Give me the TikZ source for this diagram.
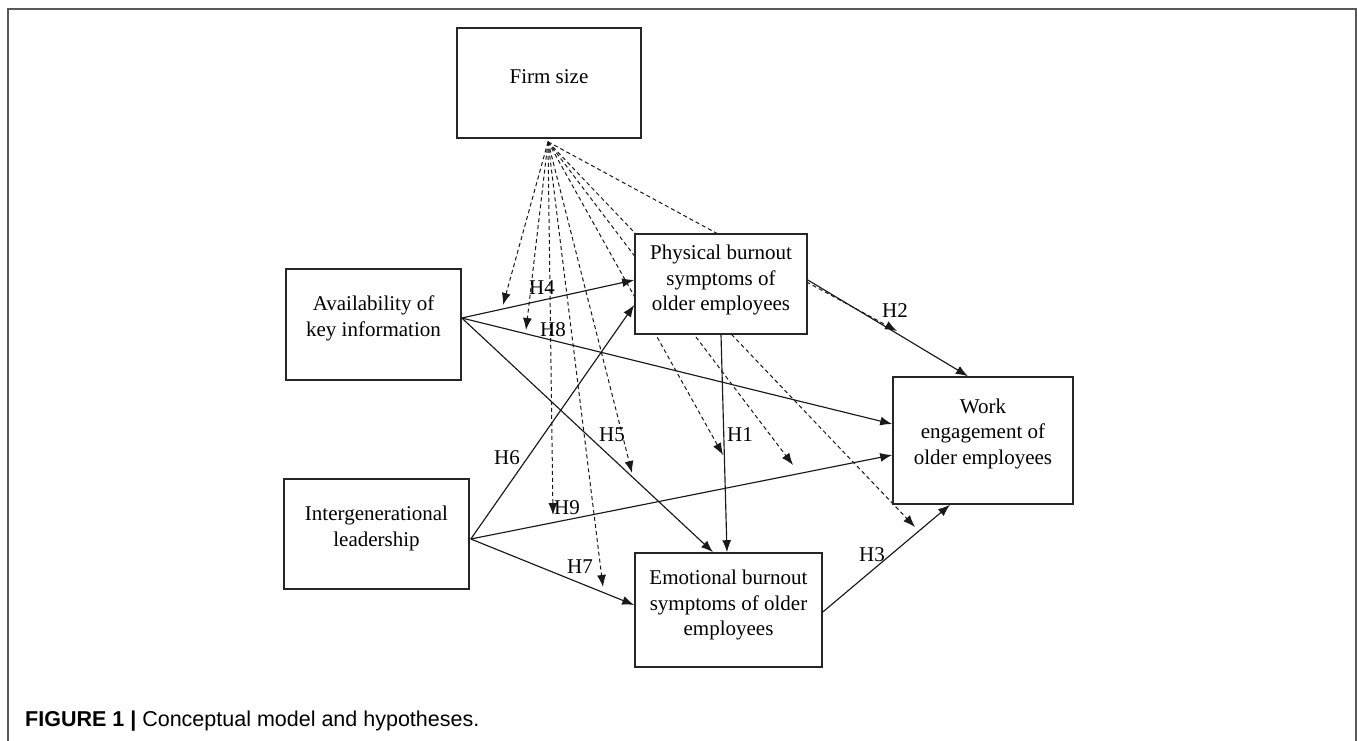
\documentclass[tikz,border=0pt]{standalone}
\usepackage{fontspec}
\setmainfont{Liberation Serif}
\newfontfamily\capfont{Liberation Sans}
\usetikzlibrary{arrows.meta,calc}
\begin{document}
\begin{tikzpicture}[x=1pt,y=-1pt,
  box/.style={draw=black!85, line width=1.6pt, fill=white, inner sep=0pt},
  txt/.style={align=center, inner sep=0pt, font=\fontsize{21}{25.5}\selectfont},
  hyp/.style={inner sep=0pt, font=\fontsize{21}{24}\selectfont},
  link/.style={line width=1.15pt, draw=black!90, -{Latex[length=12pt,width=9pt]}},
  mod/.style={line width=1pt, draw=black!90, dash pattern=on 4pt off 3pt, -{Latex[length=12pt,width=9pt]}}
]
\useasboundingbox (0,0) rectangle (1357,740);
\fill[white] (0,0) rectangle (1357,740);
\draw[black!65, line width=2pt] (8,742) -- (8,9) -- (1356,9) -- (1356,742);

% boxes (empty, for positions)
\node[box, minimum width=184pt, minimum height=110pt] (firm) at (549,83) {};
\node[box, minimum width=175pt, minimum height=111pt] (avail) at (373.5,324.5) {};
\node[box, minimum width=185pt, minimum height=110pt] (inter) at (376.5,534) {};

% dashed moderation lines (drawn before the boxes they pass behind)
\coordinate (src) at ($(firm.south)+(-1,3)$);
\coordinate (ma) at (503,305);
\coordinate (mb) at (526,330);
\coordinate (mc) at (553,515);
\coordinate (md) at (603,587);
\coordinate (me) at (632,473);
\coordinate (mf) at (723,455);
\coordinate (mg) at (793,465);
\coordinate (mh) at (915,527);
\coordinate (mi) at (897,331);
\foreach \t in {ma,mb,mc,md,me,mf,mg,mh,mi} \draw[mod] (src) -- (\t);

\node[box, minimum width=172pt, minimum height=100pt] (phys) at (721,284) {};
\node[box, minimum width=180pt, minimum height=127pt] (work) at (983,440.5) {};
\node[box, minimum width=187pt, minimum height=114pt] (emo) at (728.5,610) {};

% texts
\node[txt] (firmt) at ([yshift=6pt]firm.center) {Firm size};
\node[txt] (availt) at ([yshift=6pt]avail.center) {Availability of\\key information};
\node[txt] (intert) at ([yshift=5.5pt]inter.center) {Intergenerational\\leadership};
\node[txt] (physt) at ([yshift=4pt]phys.center) {Physical burnout\\symptoms of\\older employees};
\node[txt] (workt) at ([yshift=7pt]work.center) {Work\\engagement of\\older employees};
\node[txt] (emot) at ([yshift=5pt]emo.center) {Emotional burnout\\symptoms of older\\employees};

% connector end points
\coordinate (aS) at (avail.east |- 0,318);
\coordinate (iS) at ($(inter.east)+(1,5)$);
\coordinate (pH4) at (phys.west |- 0,280);
\coordinate (pH6) at (phys.west |- 0,305);
\coordinate (pS) at (phys.south -| 721,0);
\coordinate (pE) at (phys.east |- 0,280);
\coordinate (wH8) at (work.west |- 0,424);
\coordinate (wH9) at (work.west |- 0,455);
\coordinate (wN) at (work.north -| 968,0);
\coordinate (wS) at (work.south -| 950,0);
\coordinate (eH5) at (emo.north -| 713,0);
\coordinate (eH1) at (emo.north -| 727,0);
\coordinate (eH7) at (emo.west |- 0,605);
\coordinate (eE) at (emo.east |- 0,612);

\draw[link] (aS) -- (pH4);
\draw[link] (aS) -- (wH8);
\draw[link] (aS) -- (eH5);
\draw[link] (iS) -- (pH6);
\draw[link] (iS) -- (wH9);
\draw[link] (iS) -- (eH7);
\draw[link] (pS) -- (eH1);
\draw[link] (pE) -- (wN);
\draw[link] (eE) -- (wS);

% hypothesis labels
\node[hyp] (h4) at (542,288) {H4};
\node[hyp] (h8) at (553,330) {H8};
\node[hyp] (h5) at (612,435) {H5};
\node[hyp] (h6) at (507,458) {H6};
\node[hyp] (h1) at (740,435) {H1};
\node[hyp] (h2) at (895,311) {H2};
\node[hyp] (h9) at (567,508) {H9};
\node[hyp] (h7) at (580,567) {H7};
\node[hyp] (h3) at (872,555) {H3};

% caption
\node[anchor=west, inner sep=0pt, font=\capfont\fontsize{21.5}{25}\selectfont] (cap) at (25,721)
  {\textbf{FIGURE 1 |} Conceptual model and hypotheses.};
\end{tikzpicture}
\end{document}
